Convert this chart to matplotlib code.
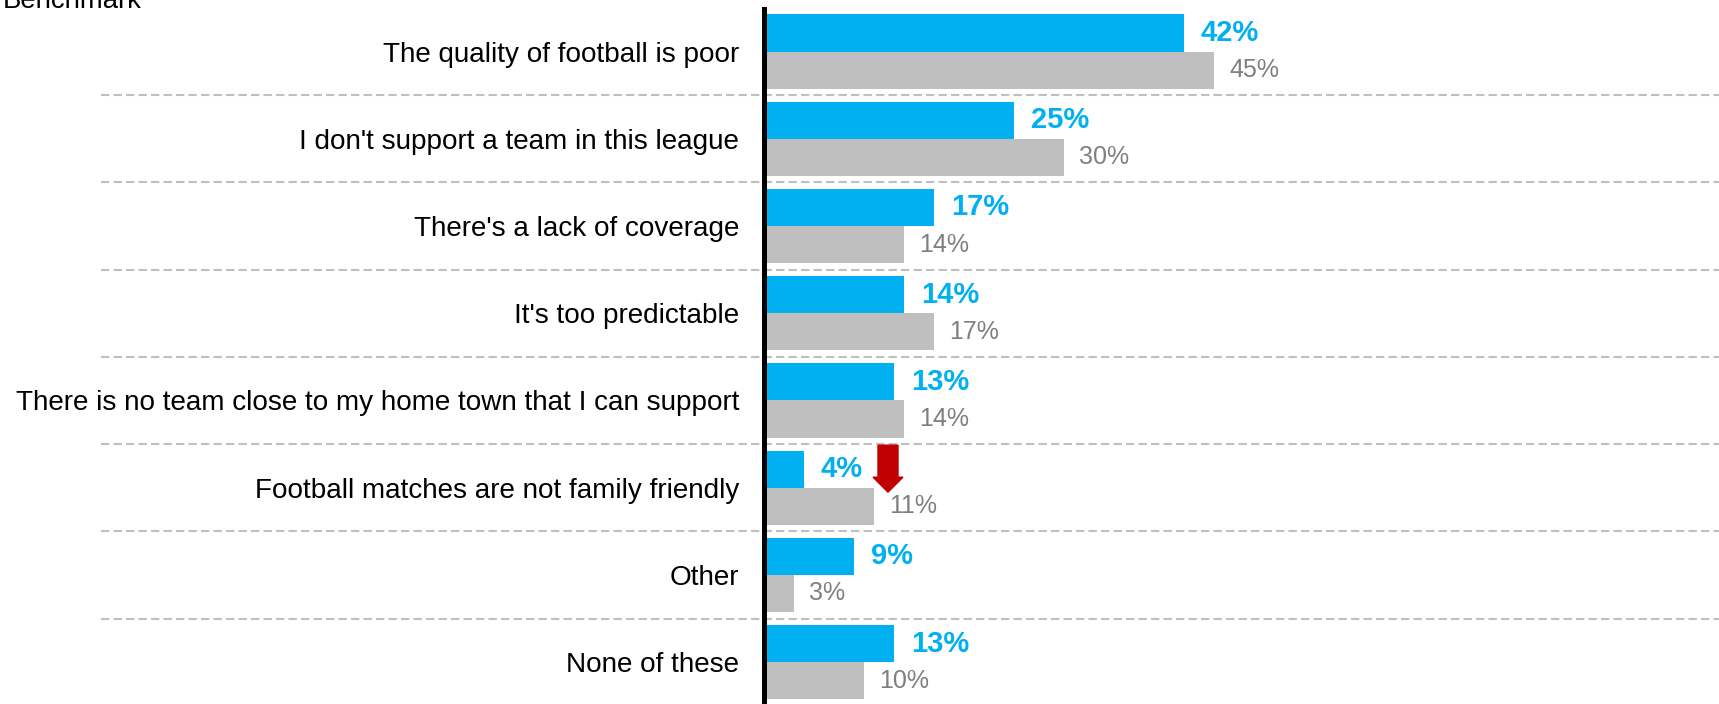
import matplotlib
matplotlib.use("Agg")
import matplotlib.pyplot as plt
from matplotlib.patches import Polygon
from matplotlib.transforms import ScaledTranslation

plt.rcParams['font.family'] = ['Liberation Sans', 'DejaVu Sans']

# data
categories = [
    "The quality of football is poor",
    "I don't support a team in this league",
    "There's a lack of coverage",
    "It's too predictable",
    "There is no team close to my home town that I can support",
    "Football matches are not family friendly",
    "Other",
    "None of these",
]
current = [42, 25, 17, 14, 13, 4, 9, 13]
benchmark = [45, 30, 14, 17, 14, 11, 3, 10]
down_flags = [False, False, False, False, False, True, False, False]

blue = "#00B0F0"
grey = "#BFBFBF"
grey_txt = "#7F7F7F"
red = "#C00000"

W, H = 1719, 704
fig = plt.figure(figsize=(W / 100, H / 100), dpi=100)
ax_left = 764 / W
ax_top = 1 - 8.8 / H
ax = fig.add_axes([ax_left, 0, 1 - ax_left, ax_top])

bh = 0.425
ypos = list(range(len(categories)))
ax.barh([y - bh / 2 for y in ypos], current, height=bh, color=blue, zorder=2)
ax.barh([y + bh / 2 for y in ypos], benchmark, height=bh, color=grey, zorder=2)

ax.set_xlim(0, (W - 764) / 10)
ax.set_ylim(7.48, -0.49)

# value labels
for y, c, b in zip(ypos, current, benchmark):
    ax.annotate(f"{c}%", (c, y - bh / 2), xytext=(12, 0), textcoords="offset points",
                va="center", ha="left", color=blue, fontsize=21, fontweight="bold")
    ax.annotate(f"{b}%", (b, y + bh / 2), xytext=(11, 0), textcoords="offset points",
                va="center", ha="left", color=grey_txt, fontsize=18)

# red down arrows (significantly lower than benchmark)
arrow = [(0, 0), (-0.15, 0.15), (-0.10, 0.15), (-0.10, 0.47),
         (0.10, 0.47), (0.10, 0.15), (0.15, 0.15)]
for y, c, flag in zip(ypos, current, down_flags):
    if flag:
        tr = fig.dpi_scale_trans + ScaledTranslation(c, y, ax.transData) \
            + ScaledTranslation(0.84, -0.045, fig.dpi_scale_trans)
        ax.add_patch(Polygon(arrow, closed=True, color=red, transform=tr,
                             clip_on=False, zorder=4))

# dashed separators
x0 = (101 - 764) / (W - 764)
for y in ypos[:-1]:
    ax.plot([x0, 1], [y + 0.5, y + 0.5], transform=ax.get_yaxis_transform(),
            color=grey, lw=1.5, ls=(0, (4, 2)), clip_on=False, zorder=1)

ax.set_yticks(ypos)
ax.set_yticklabels(categories, fontsize=20.1)
ax.tick_params(axis="y", length=0, pad=18)
ax.set_xticks([])
for s in ["top", "right", "bottom"]:
    ax.spines[s].set_visible(False)
ax.spines["left"].set_linewidth(3.6)
ax.spines["left"].set_zorder(5)

fig.text(3 / W, 1 - 8 / H, "Benchmark", fontsize=19.8, va="baseline", ha="left")

fig.savefig("out.png", dpi=100)
